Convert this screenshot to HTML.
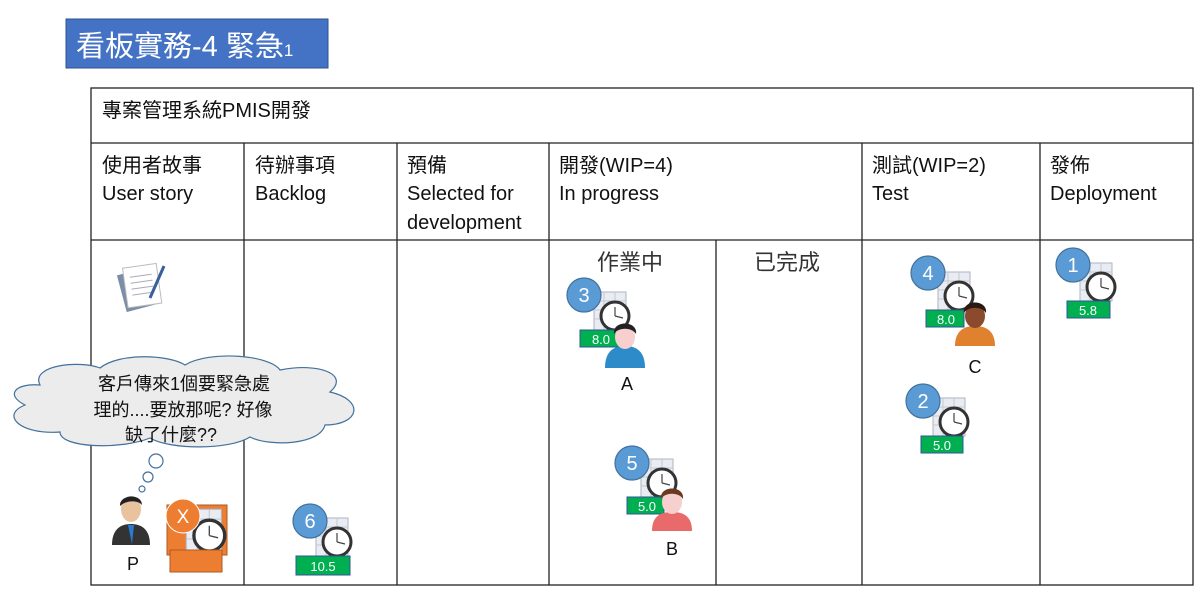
<!DOCTYPE html>
<html><head><meta charset="utf-8"><style>
body{margin:0;background:#fff;}
svg{display:block;font-family:"Liberation Sans","Noto Sans CJK TC",sans-serif;}
</style></head><body>
<svg width="1200" height="594" viewBox="0 0 1200 594" xmlns="http://www.w3.org/2000/svg">
<defs>
<g id="card">
 <rect x="12" y="-38" width="32" height="38" fill="#e9ecf2" stroke="#aeb4c2"/>
 <path d="M12 -29H44M12 -20H44M12 -11H44M22 -38V0M33 -38V0" stroke="#c3c8d4" fill="none"/>
 <circle cx="33" cy="-14" r="14" fill="#fff" stroke="#333" stroke-width="3"/>
 <path d="M33 -14V-23M33 -14L41 -12" stroke="#444" stroke-width="1.2"/>
</g>
</defs>
<!-- title -->
<rect x="66" y="19" width="262" height="49" fill="#4472c4" stroke="#2f528f"/>
<text x="76" y="56" font-size="29" fill="#fff">看板實務-4 緊急<tspan font-size="17">1</tspan></text>

<!-- table -->
<g stroke="#222" stroke-width="1.3" fill="none">
<rect x="91" y="88" width="1102" height="497"/>
<line x1="91" y1="143" x2="1193" y2="143"/>
<line x1="91" y1="240" x2="1193" y2="240"/>
<line x1="244" y1="143" x2="244" y2="585"/>
<line x1="397" y1="143" x2="397" y2="585"/>
<line x1="549" y1="143" x2="549" y2="585"/>
<line x1="716" y1="240" x2="716" y2="585"/>
<line x1="862" y1="143" x2="862" y2="585"/>
<line x1="1040" y1="143" x2="1040" y2="585"/>
</g>
<g font-size="20" fill="#111">
<text x="102" y="117">專案管理系統PMIS開發</text>
<text x="102" y="172">使用者故事</text><text x="102" y="200">User story</text>
<text x="255" y="172">待辦事項</text><text x="255" y="200">Backlog</text>
<text x="407" y="172">預備</text><text x="407" y="200">Selected for</text><text x="407" y="229">development</text>
<text x="559" y="172">開發(WIP=4)</text><text x="559" y="200">In progress</text>
<text x="872" y="172">測試(WIP=2)</text><text x="872" y="200">Test</text>
<text x="1050" y="172">發佈</text><text x="1050" y="200">Deployment</text>
<text x="597" y="270" font-size="22" fill="#333">作業中</text>
<text x="754" y="270" font-size="22" fill="#333">已完成</text>
</g>

<!-- notepad icon -->
<g transform="translate(120,262)">
 <rect x="2" y="8" width="34" height="38" fill="#7b8ea8" transform="rotate(-15 20 30)"/>
 <rect x="6" y="4" width="34" height="40" fill="#fff" stroke="#bbb" transform="rotate(-8 20 30)"/>
 <path d="M12 14H34M12 20H34M12 26H34M12 32H34" stroke="#aab" transform="rotate(-8 20 30)"/>
 <line x1="44" y1="4" x2="30" y2="36" stroke="#3a5f9a" stroke-width="3"/>
</g>

<!-- cloud -->
<path d="M40 385 C30 365 80 360 100 368 C120 352 170 355 185 365 C210 350 270 355 280 370 C320 362 350 375 330 392 C365 400 360 425 325 425 C320 445 270 447 250 437 C230 450 170 450 150 438 C120 450 60 448 60 432 C20 435 0 415 25 405 C5 395 15 383 40 385 Z" fill="#ececec" stroke="#41719c" stroke-width="1.2"/>
<g font-size="18" fill="#111" text-anchor="middle">
<text x="184" y="390">客戶傳來1個要緊急處</text>
<text x="183" y="416">理的....要放那呢? 好像</text>
<text x="171" y="441">缺了什麼??</text>
</g>
<circle cx="156" cy="461" r="7" fill="#fff" stroke="#41719c" stroke-width="1.2"/>
<circle cx="148" cy="477" r="5" fill="#fff" stroke="#41719c" stroke-width="1.2"/>
<circle cx="142" cy="489" r="3" fill="#fff" stroke="#41719c" stroke-width="1.2"/>

<!-- P businessman -->
<path d="M112 545 C112 528 122 524 131 524 C140 524 150 528 150 545 Z" fill="#333"/>
<path d="M128 525 L134 525 L132 544 Z" fill="#2a7bd0"/>
<ellipse cx="131" cy="509" rx="10" ry="13" fill="#e8c39e"/>
<path d="M120 506 C119 494 142 493 142 505 C138 500 126 500 120 506Z" fill="#222"/>
<text x="127" y="570" font-size="18" fill="#111">P</text>

<!-- X orange card -->
<rect x="167" y="505" width="60" height="50" fill="#ed7d31" stroke="#ae5a21"/>
<g transform="translate(173,551) scale(1.1)"><use href="#card"/></g>
<rect x="170" y="550" width="52" height="22" fill="#ed7d31" stroke="#ae5a21"/>
<circle cx="183" cy="516" r="17" fill="#ed7d31" stroke="#fff" stroke-width="1"/>
<text x="183" y="523" font-size="19" fill="#fff" text-anchor="middle">X</text>

<!-- cards -->
<g font-size="13" fill="#fff" text-anchor="middle">
 <use href="#card" x="304" y="556"/>
 <rect x="296" y="556" width="54" height="19" fill="#00b050" stroke="#2f5597"/>
 <text x="323" y="571">10.5</text>

 <use href="#card" x="582" y="330"/>
 <rect x="580" y="330" width="43" height="17" fill="#00b050" stroke="#2f5597"/>
 <text x="601" y="344">8.0</text>

 <use href="#card" x="629" y="497"/>
 <rect x="627" y="497" width="37" height="17" fill="#00b050" stroke="#2f5597"/>
 <text x="647" y="511">5.0</text>

 <use href="#card" x="926" y="310"/>
 <rect x="926" y="310" width="38" height="17" fill="#00b050" stroke="#2f5597"/>
 <text x="946" y="324">8.0</text>

 <use href="#card" x="921" y="436"/>
 <rect x="921" y="436" width="42" height="17" fill="#00b050" stroke="#2f5597"/>
 <text x="942" y="450">5.0</text>

 <use href="#card" x="1068" y="301"/>
 <rect x="1067" y="301" width="43" height="17" fill="#00b050" stroke="#2f5597"/>
 <text x="1088" y="315">5.8</text>
</g>

<!-- persons -->
<path d="M605 368 C605 350 615 346 625 346 C635 346 645 350 645 368 Z" fill="#2e8bc9"/>
<ellipse cx="625" cy="337" rx="10" ry="12" fill="#f7cfcf"/>
<path d="M614 334 C612 320 638 320 636 334 C632 327 618 327 614 334Z" fill="#222"/>
<text x="627" y="390" font-size="18" fill="#111" text-anchor="middle">A</text>

<path d="M652 531 C652 515 662 512 672 512 C682 512 692 515 692 531 Z" fill="#e86a6a"/>
<ellipse cx="672" cy="502" rx="10" ry="12" fill="#f7cfcf"/>
<path d="M661 499 C659 485 685 485 683 499 C679 492 665 492 661 499Z" fill="#6b3a22"/>
<text x="672" y="555" font-size="18" fill="#111" text-anchor="middle">B</text>

<path d="M955 346 C955 330 965 326 975 326 C985 326 995 330 995 346 Z" fill="#e0812f"/>
<ellipse cx="975" cy="316" rx="10" ry="12" fill="#8a4a2e"/>
<path d="M964 313 C962 299 988 299 986 313 C982 306 968 306 964 313Z" fill="#2a1a12"/>
<text x="975" y="373" font-size="18" fill="#111" text-anchor="middle">C</text>

<!-- badges -->
<g fill="#5b9bd5" stroke="#41719c" stroke-width="1.2">
 <circle cx="310" cy="521" r="17"/>
 <circle cx="584" cy="295" r="17"/>
 <circle cx="632" cy="463" r="17"/>
 <circle cx="928" cy="273" r="17"/>
 <circle cx="923" cy="401" r="17"/>
 <circle cx="1073" cy="265" r="17"/>
</g>
<g font-size="20" fill="#fff" text-anchor="middle">
 <text x="310" y="528">6</text>
 <text x="584" y="302">3</text>
 <text x="632" y="470">5</text>
 <text x="928" y="280">4</text>
 <text x="923" y="408">2</text>
 <text x="1073" y="272">1</text>
</g>
</svg>
</body></html>
